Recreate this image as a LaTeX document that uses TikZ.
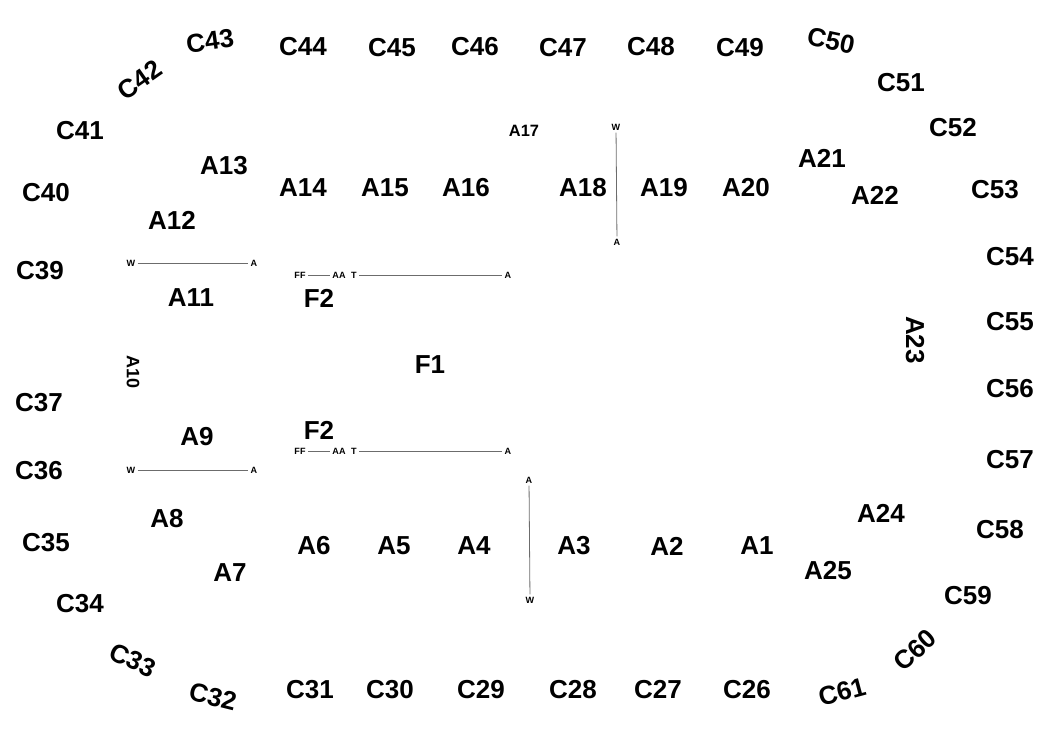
\documentclass[tikz,border=0pt]{standalone}
\usepackage{fontspec}
\setmainfont{Liberation Sans}
\begin{document}
\begin{tikzpicture}[x=0.75pt,y=-0.75pt,
  big/.style={inner sep=0pt,font=\fontsize{19.5}{22}\selectfont\bfseries},
  mid/.style={inner sep=0pt,font=\fontsize{12.3}{14}\selectfont\bfseries},
  midb/.style={inner sep=0pt,font=\fontsize{13.5}{15}\selectfont\bfseries},
  tiny/.style={inner sep=1.6pt,font=\fontsize{6.8}{8}\selectfont\bfseries},
  bar/.style={draw=gray!85!black,line width=0.6pt}]
\useasboundingbox (0,0) rectangle (1050,738);
% outer C labels
\node[big] (c44) at (303,47) {C44};
\node[big] (c45) at (392,48) {C45};
\node[big] (c46) at (475,47) {C46};
\node[big] (c47) at (563,48) {C47};
\node[big] (c48) at (651,47) {C48};
\node[big] (c49) at (740,48) {C49};
\node[big,rotate=-12] (c50) at (831,41) {C50};
\node[big] (c51) at (901,83) {C51};
\node[big] (c52) at (953,128) {C52};
\node[big] (c53) at (995,190) {C53};
\node[big] (c54) at (1010,257) {C54};
\node[big] (c55) at (1010,322) {C55};
\node[big] (c56) at (1010,389) {C56};
\node[big] (c57) at (1010,460) {C57};
\node[big] (c58) at (1000,530) {C58};
\node[big] (c59) at (968,596) {C59};
\node[big,rotate=42] (c60) at (915,650) {C60};
\node[big,rotate=15] (c61) at (842,692) {C61};
\node[big] (c26) at (747,690) {C26};
\node[big] (c27) at (658,690) {C27};
\node[big] (c28) at (573,690) {C28};
\node[big] (c29) at (481,690) {C29};
\node[big] (c30) at (390,690) {C30};
\node[big] (c31) at (310,690) {C31};
\node[big,rotate=-14] (c32) at (213,697) {C32};
\node[big,rotate=-25] (c33) at (133,660) {C33};
\node[big] (c34) at (80,604) {C34};
\node[big] (c35) at (46,543) {C35};
\node[big] (c36) at (39,471) {C36};
\node[big] (c37) at (39,403) {C37};
\node[big] (c39) at (40,271) {C39};
\node[big] (c40) at (46,193) {C40};
\node[big] (c41) at (80,131) {C41};
\node[big,rotate=35] (c42) at (140,80) {C42};
\node[big,rotate=8] (c43) at (210,41) {C43};
% inner A labels
\node[big] (a13) at (224,166) {A13};
\node[big] (a14) at (303,188) {A14};
\node[big] (a15) at (385,188) {A15};
\node[big] (a16) at (466,188) {A16};
\node[mid] (a17) at (524,131) {A17};
\node[big] (a18) at (583,188) {A18};
\node[big] (a19) at (664,188) {A19};
\node[big] (a20) at (746,188) {A20};
\node[big] (a21) at (822,158) {A21};
\node[big] (a22) at (875,195) {A22};
\node[big,rotate=-90] (a23) at (915,340) {A23};
\node[big] (a24) at (881,513) {A24};
\node[big] (a25) at (828,571) {A25};
\node[big] (a1) at (757,546) {A1};
\node[big] (a2) at (667,546) {A2};
\node[big] (a3) at (574,546) {A3};
\node[big] (a4) at (474,546) {A4};
\node[big] (a5) at (394,546) {A5};
\node[big] (a6) at (314,546) {A6};
\node[big] (a7) at (230,573) {A7};
\node[big] (a8) at (167,519) {A8};
\node[big] (a9) at (197,437) {A9};
\node[midb,rotate=-90] (a10) at (133,372) {A10};
\node[big] (a11) at (191,298) {A11};
\node[big] (a12) at (172,220) {A12};
% F labels
\node[big] (f2t) at (319,298) {F2};
\node[big] (f1) at (430,365) {F1};
\node[big] (f2b) at (319,430) {F2};
% left W--A bars
\node[tiny] (w1) at (131,263) {W};
\node[tiny] (e1) at (254,263) {A};
\draw[bar] (w1) -- (e1);
\node[tiny] (w2) at (131,470) {W};
\node[tiny] (e2) at (254,470) {A};
\draw[bar] (w2) -- (e2);
% FF -- AA T -- A bars
\node[tiny] (ff1) at (300,275) {FF};
\node[tiny] (aa1) at (339,275) {AA};
\node[tiny] (t1) at (354,275) {T};
\node[tiny] (ea1) at (508,275) {A};
\draw[bar] (ff1) -- (aa1);
\draw[bar] (t1) -- (ea1);
\node[tiny] (ff2) at (300,451) {FF};
\node[tiny] (aa2) at (339,451) {AA};
\node[tiny] (t2) at (354,451) {T};
\node[tiny] (ea2) at (508,451) {A};
\draw[bar] (ff2) -- (aa2);
\draw[bar] (t2) -- (ea2);
% vertical bars
\node[tiny] (vw1) at (616,127) {W};
\node[tiny] (va1) at (617,242) {A};
\draw[bar] (vw1) -- (va1);
\node[tiny] (va2) at (529,480) {A};
\node[tiny] (vw2) at (530,600) {W};
\draw[bar] (va2) -- (vw2);
\end{tikzpicture}
\end{document}
